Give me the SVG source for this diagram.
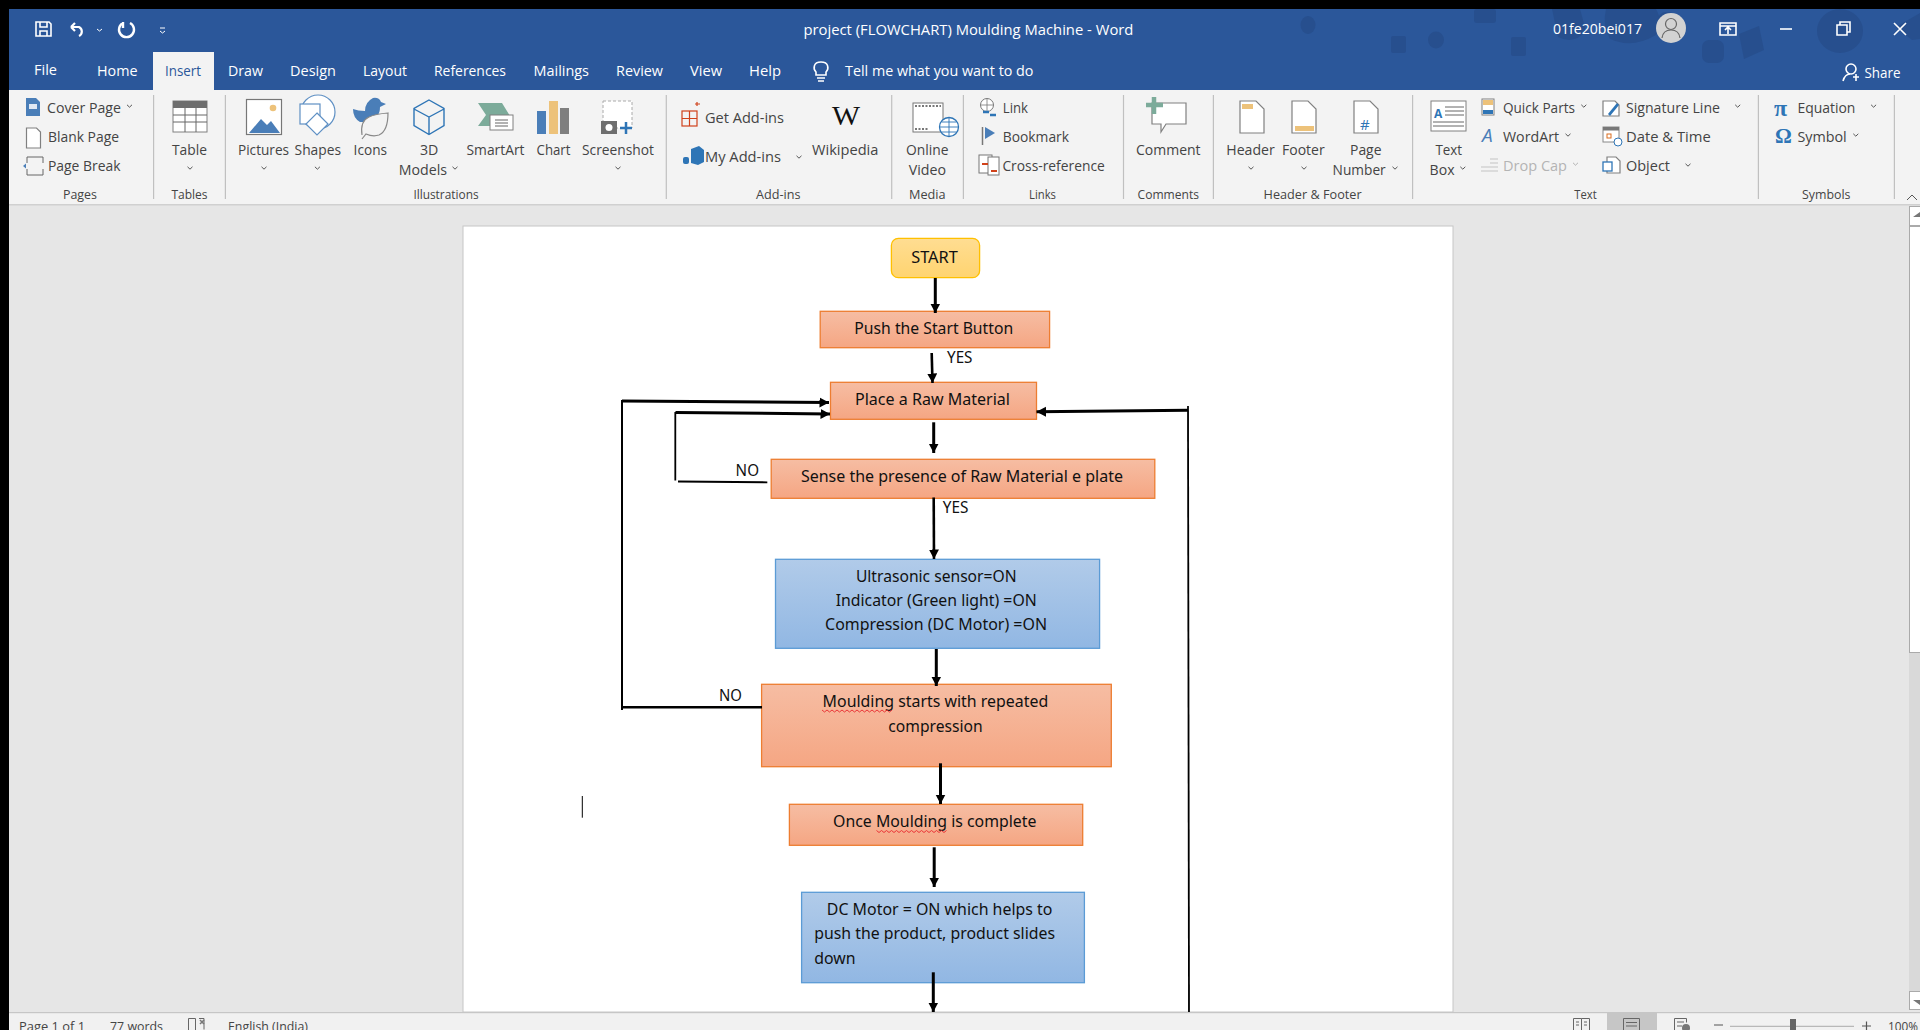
<svg xmlns="http://www.w3.org/2000/svg" width="1920" height="1030" viewBox="0 0 1920 1030">
<style>
text{font-family:"Open Sans","Noto Sans","Liberation Sans",sans-serif;font-size:14px;fill:#444;}
.t{fill:#fff;}
.g{font-size:12.5px;fill:#444;}
.f{font-family:"Noto Sans","Open Sans",sans-serif;font-size:16px;fill:#111;}
.d{fill:#b4b4b4;}
.or{fill:url(#orange);stroke:#ed7d31;stroke-width:1.3;}
.bl{fill:url(#blue);stroke:#5b9bd5;stroke-width:1.3;}
.c{fill:none;stroke:#666;stroke-width:1;}
.sep{stroke:#c0c0c0;stroke-width:1.2;}
.w{fill:none;stroke:#fff;stroke-width:1.6;}
.ln{fill:none;stroke:#000;}
.deco{fill:#274f8e;}
.ic{fill:#fff;stroke:#808080;stroke-width:1.2;}
.sq{fill:none;stroke:#e8282c;stroke-width:.9;}
</style>
<defs>
<linearGradient id="orange" x1="0" y1="0" x2="0" y2="1"><stop offset="0" stop-color="#f6bda3"/><stop offset="1" stop-color="#f5a683"/></linearGradient>
<linearGradient id="blue" x1="0" y1="0" x2="0" y2="1"><stop offset="0" stop-color="#b1cbe9"/><stop offset="1" stop-color="#91b7e3"/></linearGradient>
<linearGradient id="yellow" x1="0" y1="0" x2="0" y2="1"><stop offset="0" stop-color="#ffdd92"/><stop offset="1" stop-color="#ffd470"/></linearGradient>
<marker id="ah" markerUnits="userSpaceOnUse" markerWidth="11" markerHeight="11" refX="9.500" refY="5" orient="auto"><path d="M0 0L9.500 5L0 10z" fill="#000"/></marker>
<path id="chev" d="M-2.5 -1.2L0 1.2L2.5 -1.2" fill="none" stroke="#555" stroke-width="1"/>
</defs>

<g id="window">
<rect width="1920" height="1030" fill="#e6e6e6"/>
<rect x="0" y="9" width="1920" height="81" fill="#2b579a"/>
<rect x="9" y="90" width="1911" height="114" fill="#f3f3f3"/>
<rect x="9" y="204" width="1911" height="1.5" fill="#d0d0d0"/>
<rect x="9" y="1012" width="1911" height="18" fill="#f1f1f1"/>
<rect x="9" y="1012" width="1911" height="1.2" fill="#c6c6c6"/>
<rect x="0" y="0" width="9" height="1030" fill="#000"/>
<rect x="0" y="0" width="1920" height="9" fill="#000"/>
</g>

<g id="title-decoration" class="deco">
<ellipse cx="1308" cy="25" rx="7.5" ry="9"/><rect x="1391" y="36" width="15" height="17" rx="2"/><ellipse cx="1436" cy="40" rx="8" ry="8.5"/><rect x="1511" y="37" width="15" height="19" rx="2"/><rect x="1474" y="9" width="22" height="14" rx="3"/>
<path d="M1552 9h28l6 22q-12 14-28 6z"/><path d="M1606 9h50q8 14 0 26q-24 14-46 4q-8-14-4-30z"/><rect x="1658" y="12" width="18" height="20" rx="8"/>
<rect x="1702" y="40" width="22" height="23" rx="7"/><path d="M1739 34l20-8 5 24-20 9z"/><ellipse cx="1840" cy="31" rx="23" ry="22"/><path d="M1896 27l24-14v26l-8 1z"/>
</g>

<g id="quick-access" fill="none" stroke="#fff" stroke-width="1.6">
<path d="M36 22h13l2 2v12h-15zM40 22v5h7v-5M40 36v-5h7v5"/>
<path d="M71 27h8a5 5 0 0 1 0 9M71 27l4-4M71 27l4 4" stroke-width="2.200"/>
<path d="M97 29l2.500 2 2.500-2" stroke-width="1"/>
<path d="M123 23a7.500 7.500 0 1 0 7 0M123 22v6" stroke-width="2.400"/>
<path d="M160 28h5M160 31l2.500 2 2.500-2" stroke-width="1"/>
</g>
<text class="t" x="803.400" y="35" textLength="330" lengthAdjust="spacingAndGlyphs" style="font-size:14.500px">project (FLOWCHART) Moulding Machine  -  Word</text>
<text class="t" x="1553" y="34" textLength="89" lengthAdjust="spacingAndGlyphs">01fe20bei017</text>
<g id="window-controls">
<circle cx="1671" cy="28" r="15" fill="#d2d2d2"/><circle cx="1671" cy="24" r="5.500" fill="none" stroke="#666" stroke-width="1.200"/><path d="M1662 38q1-8 9-8t9 8" fill="none" stroke="#666" stroke-width="1.200"/>
<path class="w" d="M1720 23h16v12h-16zM1720 26h16M1728 34v-6M1725 30l3-3 3 3"/>
<path class="w" d="M1780 29h12"/>
<path class="w" d="M1837 25h10v10h-10zM1840 25v-3h10v10h-3"/>
<path class="w" d="M1894 23l12 12M1906 23l-12 12"/>
<circle cx="1851" cy="69" r="5" class="w" stroke-width="1.200"/><path class="w" stroke-width="1.200" d="M1843 81q2-7 7-7M1853 77h6M1856 74v7"/>
<path class="w" stroke-width="1.200" d="M816 75v-3c-3-3-3-10 5-10s8 7 5 10v3zM817 78h8M818 81h6"/>
</g>
<text class="t" x="1864.500" y="78" textLength="36" lengthAdjust="spacingAndGlyphs">Share</text>

<g id="tabs">
<rect x="153" y="52" width="61" height="38" fill="#f3f3f3"/>
<text class="t" x="34" y="75" textLength="23" lengthAdjust="spacingAndGlyphs">File</text>
<text class="t" x="97" y="76" textLength="40.500" lengthAdjust="spacingAndGlyphs">Home</text>
<text x="165" y="76" textLength="36" lengthAdjust="spacingAndGlyphs" style="fill:#2b579a">Insert</text>
<text class="t" x="228" y="76" textLength="35" lengthAdjust="spacingAndGlyphs">Draw</text>
<text class="t" x="290" y="76" textLength="46" lengthAdjust="spacingAndGlyphs">Design</text>
<text class="t" x="363" y="76" textLength="44" lengthAdjust="spacingAndGlyphs">Layout</text>
<text class="t" x="434" y="76" textLength="72" lengthAdjust="spacingAndGlyphs">References</text>
<text class="t" x="533.500" y="76" textLength="55.500" lengthAdjust="spacingAndGlyphs">Mailings</text>
<text class="t" x="616" y="76" textLength="47" lengthAdjust="spacingAndGlyphs">Review</text>
<text class="t" x="690" y="76" textLength="32" lengthAdjust="spacingAndGlyphs">View</text>
<text class="t" x="749" y="76" textLength="32" lengthAdjust="spacingAndGlyphs">Help</text>
<text class="t" x="845" y="76" textLength="188.500" lengthAdjust="spacingAndGlyphs">Tell me what you want to do</text>
</g>

<g id="ribbon-separators" class="sep">
<path d="M153.600 95V199M225.400 95V199M666.300 95V199M891.700 95V199M963.400 95V199M1123.500 95V199M1213.400 95V199M1412.600 95V199M1758.400 95V199M1894.400 95V199"/>
</g>

<g id="ribbon-labels">
<text x="47" y="112.700" textLength="74" lengthAdjust="spacingAndGlyphs">Cover Page</text>
<text x="48" y="141.700" textLength="71" lengthAdjust="spacingAndGlyphs">Blank Page</text>
<text x="48" y="170.700" textLength="72.500" lengthAdjust="spacingAndGlyphs">Page Break</text>
<text x="172" y="155" textLength="35" lengthAdjust="spacingAndGlyphs">Table</text>
<text x="238" y="155" textLength="51" lengthAdjust="spacingAndGlyphs">Pictures</text>
<text x="294.600" y="155" textLength="46.400" lengthAdjust="spacingAndGlyphs">Shapes</text>
<text x="353.600" y="155" textLength="33.400" lengthAdjust="spacingAndGlyphs">Icons</text>
<text x="420" y="155" textLength="18.400" lengthAdjust="spacingAndGlyphs">3D</text>
<text x="398.700" y="175" textLength="48.300" lengthAdjust="spacingAndGlyphs">Models</text>
<text x="466.500" y="155" textLength="58" lengthAdjust="spacingAndGlyphs">SmartArt</text>
<text x="536.600" y="155" textLength="33.900" lengthAdjust="spacingAndGlyphs">Chart</text>
<text x="582" y="155" textLength="72" lengthAdjust="spacingAndGlyphs">Screenshot</text>
<text x="705" y="122.700" textLength="79" lengthAdjust="spacingAndGlyphs">Get Add-ins</text>
<text x="705" y="161.700" textLength="76" lengthAdjust="spacingAndGlyphs">My Add-ins</text>
<text x="812" y="155" textLength="66.400" lengthAdjust="spacingAndGlyphs">Wikipedia</text>
<text x="906" y="155" textLength="42.500" lengthAdjust="spacingAndGlyphs">Online</text>
<text x="908.700" y="175" textLength="37.300" lengthAdjust="spacingAndGlyphs">Video</text>
<text x="1002.800" y="112.700" textLength="25.200" lengthAdjust="spacingAndGlyphs">Link</text>
<text x="1002.800" y="141.700" textLength="66.200" lengthAdjust="spacingAndGlyphs">Bookmark</text>
<text x="1002.400" y="170.700" textLength="102.400" lengthAdjust="spacingAndGlyphs">Cross-reference</text>
<text x="1136" y="155" textLength="64.600" lengthAdjust="spacingAndGlyphs">Comment</text>
<text x="1226.300" y="155" textLength="48.500" lengthAdjust="spacingAndGlyphs">Header</text>
<text x="1282" y="155" textLength="42.700" lengthAdjust="spacingAndGlyphs">Footer</text>
<text x="1350" y="155" textLength="31.500" lengthAdjust="spacingAndGlyphs">Page</text>
<text x="1332.600" y="175" textLength="53.100" lengthAdjust="spacingAndGlyphs">Number</text>
<text x="1435.400" y="155" textLength="26.600" lengthAdjust="spacingAndGlyphs">Text</text>
<text x="1429.600" y="175" textLength="24.900" lengthAdjust="spacingAndGlyphs">Box</text>
<text x="1503" y="112.700" textLength="72" lengthAdjust="spacingAndGlyphs">Quick Parts</text>
<text x="1503" y="141.700" textLength="56" lengthAdjust="spacingAndGlyphs">WordArt</text>
<text class="d" x="1503" y="170.700" textLength="64" lengthAdjust="spacingAndGlyphs">Drop Cap</text>
<text x="1626" y="112.700" textLength="94" lengthAdjust="spacingAndGlyphs">Signature Line</text>
<text x="1626" y="141.700" textLength="84.700" lengthAdjust="spacingAndGlyphs">Date &amp; Time</text>
<text x="1626" y="170.700" textLength="44" lengthAdjust="spacingAndGlyphs">Object</text>
<text x="1797.400" y="112.700" textLength="58" lengthAdjust="spacingAndGlyphs">Equation</text>
<text x="1797.400" y="141.700" textLength="49.300" lengthAdjust="spacingAndGlyphs">Symbol</text>
<text class="g" x="63" y="199" textLength="34" lengthAdjust="spacingAndGlyphs">Pages</text>
<text class="g" x="171.400" y="199" textLength="36.200" lengthAdjust="spacingAndGlyphs">Tables</text>
<text class="g" x="413.400" y="199" textLength="65.200" lengthAdjust="spacingAndGlyphs">Illustrations</text>
<text class="g" x="756" y="199" textLength="44.500" lengthAdjust="spacingAndGlyphs">Add-ins</text>
<text class="g" x="909" y="199" textLength="36.600" lengthAdjust="spacingAndGlyphs">Media</text>
<text class="g" x="1029" y="199" textLength="27" lengthAdjust="spacingAndGlyphs">Links</text>
<text class="g" x="1137.600" y="199" textLength="61.400" lengthAdjust="spacingAndGlyphs">Comments</text>
<text class="g" x="1263.600" y="199" textLength="98" lengthAdjust="spacingAndGlyphs">Header &amp; Footer</text>
<text class="g" x="1574.300" y="199" textLength="22.400" lengthAdjust="spacingAndGlyphs">Text</text>
<text class="g" x="1802" y="199" textLength="48.500" lengthAdjust="spacingAndGlyphs">Symbols</text>
<text x="832" y="125" style="font-family:'Liberation Serif',serif;font-size:27px;fill:#111" textLength="28" lengthAdjust="spacingAndGlyphs">W</text>
</g>

<g id="ribbon-chevrons">
<use href="#chev" x="129.500" y="106"/><use href="#chev" x="190" y="168"/><use href="#chev" x="264" y="168"/><use href="#chev" x="317.400" y="168"/><use href="#chev" x="455" y="168"/><use href="#chev" x="618" y="168"/><use href="#chev" x="799" y="157"/><use href="#chev" x="1251" y="168"/><use href="#chev" x="1304" y="168"/><use href="#chev" x="1395" y="168"/><use href="#chev" x="1462.800" y="168"/><use href="#chev" x="1583.800" y="106"/><use href="#chev" x="1568" y="135"/><use href="#chev" x="1575.500" y="164" opacity=".4"/><use href="#chev" x="1737.700" y="106"/><use href="#chev" x="1688" y="165"/><use href="#chev" x="1873.600" y="106"/><use href="#chev" x="1855.800" y="135"/>
<path d="M1907 200l5-5 5 5" fill="none" stroke="#555" stroke-width="1"/>
</g>

<g id="ribbon-icons">
<path d="M26 98h10l4 4v14h-14z" fill="#4a7eb8"/><rect x="29" y="104" width="8" height="5" fill="#dfe8f3"/>
<path class="ic" d="M26.500 128h10l4 4v16h-14z"/>
<path class="c" d="M27 157h16M27 175h16M27 163v-6M43 163v-6M27 169v6M43 169v6"/><path d="M23 166l3-2.500v5z" fill="#4a7eb8"/>
<rect x="173" y="101" width="34" height="31" fill="#fff" stroke="#808080"/><rect x="173" y="101" width="34" height="7" fill="#6e6e6e"/><path class="c" stroke-width=".8" d="M173 115h34M173 122h34M185 108v24M196 108v24"/>
<rect x="246.500" y="99.500" width="35" height="35" fill="#fff" stroke="#777" stroke-width="1.200"/><circle cx="273" cy="108" r="3.300" fill="#edc27a"/><path d="M249 133l12-14 6 6 4-4 9 12z" fill="#4a7eb8"/>
<circle cx="318" cy="112" r="17" fill="#fff" stroke="#5f90c4" stroke-width="1.200"/><rect x="300" y="104" width="20" height="20" fill="#fff" stroke="#5f90c4" stroke-width="1.200"/><path d="M317 113l11 11-11 11-11-11z" fill="#fff" stroke="#5f90c4" stroke-width="1.200"/>
<path d="M353 109q5 2 12 2q0-9 8-13q6-1 8 4l5 2-6 3q0 12-12 15h-8q-7-4-7-13z" fill="#4a7eb8"/><path d="M362 135q-2-14 7-18q6-3 19-4q0 18-9 22q-6 2-13-1l-4 5" fill="#f3f3f3" stroke="#888" stroke-width="1.200"/>
<path d="M429 100l15 8.500v17l-15 9-15-9v-17zM414 109l15 8 15-8M429 117v17" fill="none" stroke="#2e75b6" stroke-width="1.400"/>
<path d="M478 103h24l8 13-8 10h-24l8-11z" fill="#7cab9a"/><rect x="490" y="115" width="23" height="15" fill="#fff" stroke="#808080"/><path class="c" stroke-width=".8" d="M495 120h13M495 123h13M495 126h13"/>
<rect x="537" y="111" width="9" height="23" fill="#4a7eb8"/><rect x="549" y="101" width="9" height="33" fill="#edc27a"/><rect x="560" y="108" width="9" height="26" fill="#7f7f7f"/>
<rect x="603" y="101" width="29" height="27" fill="#fff" stroke="#aaa" stroke-dasharray="3 2"/><rect x="601" y="121" width="16" height="13" fill="#6e6e6e"/><circle cx="609" cy="127.500" r="3.500" fill="#fff"/><path d="M626 122v12M620 128h12" stroke="#2e75b6" stroke-width="2.500"/>
<g fill="none" stroke="#d0421b" stroke-width="1.200"><rect x="682" y="111" width="15" height="15"/><path d="M689.500 111v15M682 118.500h15M697 106v-4M695 104h5"/></g>
<path d="M691 149l8-3 5 4v12l-6 3-7-2z" fill="#2e75b6"/><rect x="683" y="157" width="6" height="7" rx="2" fill="#2e75b6"/>
<rect x="913" y="103" width="30" height="29" fill="#fff" stroke="#777"/><path d="M915 106h26M915 129h14" stroke="#777" stroke-width="2" stroke-dasharray="2 1.500"/><circle cx="949" cy="127" r="9.500" fill="#fff" stroke="#2e75b6" stroke-width="1.300"/><path d="M940 127h18M949 118v18M942 122h14M942 132h14" stroke="#2e75b6" stroke-width=".9" fill="none"/>
<circle cx="987" cy="105" r="6.500" fill="#fff" stroke="#777"/><path d="M981 105h12M987 99v12" stroke="#777" stroke-width=".8"/><path d="M983 112h6M990 115h6" stroke="#2e75b6" stroke-width="2.500"/>
<path d="M982.500 127v18" stroke="#777" stroke-width="1.500"/><path d="M985 127l10 6-10 6z" fill="#4a7eb8"/>
<rect x="979" y="155" width="13" height="18" fill="#fff" stroke="#777"/><rect x="988" y="157" width="11" height="18" fill="#fff" stroke="#777"/><path d="M982 164h6M991 171h6" stroke="#d0421b" stroke-width="1.800"/>
<path d="M1152 103h34v21h-20l-5 8v-8h-9z" fill="#fff" stroke="#808080" stroke-width="1.200"/><path d="M1154 97v17M1146 105h17" stroke="#7cab9a" stroke-width="4.500"/>
<path class="ic" d="M1240 101h16l8 8v24h-24z"/><rect x="1242" y="104" width="11" height="5" fill="#edc27a"/>
<path class="ic" d="M1292 101h16l8 8v24h-24z"/><rect x="1295" y="126" width="19" height="5" fill="#edc27a"/>
<path class="ic" d="M1354 101h16l8 8v24h-24z"/><text x="1360" y="130" style="fill:#2e75b6;font-size:15px">#</text>
<rect x="1431" y="101" width="35" height="30" fill="#fff" stroke="#808080"/><text x="1434" y="118" style="fill:#2e75b6;font-size:12px;font-weight:bold">A</text><path class="c" stroke-width=".8" d="M1445 107h19M1445 111h19M1445 115h19M1433 122h31M1433 126h31"/>
<rect x="1482" y="99" width="12" height="16" fill="#fff" stroke="#808080"/><rect x="1483" y="100" width="10" height="5" fill="#edc27a"/><rect x="1483" y="110" width="10" height="4" fill="#2e75b6"/>
<text x="1482" y="142" style="fill:#4a7eb8;font-size:19px;font-style:italic">A</text>
<path d="M1481 171h17M1481 167h17M1490 163h8M1490 159h8" stroke="#c4c4c4" stroke-width="1.200"/>
<path class="ic" d="M1603 101h12l4 4v11h-16z"/><path d="M1608 114l9-11 2 2-9 11z" fill="#2e75b6"/>
<rect x="1603" y="127" width="16" height="15" fill="#fff" stroke="#888"/><rect x="1603" y="127" width="16" height="3.500" fill="#777"/><rect x="1607" y="134" width="4" height="4" fill="none" stroke="#d96c1e"/><circle cx="1618" cy="142" r="4" fill="#fff" stroke="#2e75b6"/>
<path class="ic" d="M1607 157h9l4 4v12h-13z"/><rect x="1603" y="162" width="9" height="9" fill="#fff" stroke="#2e75b6" stroke-width="1.300"/>
<text x="1774" y="116" style="font-family:'Liberation Serif',serif;font-size:24px;font-weight:bold;fill:#2e75b6">π</text>
<text x="1775" y="143" style="font-family:'Liberation Serif',serif;font-size:21px;font-weight:bold;fill:#2e75b6">Ω</text>
</g>

<g id="scrollbar">
<rect x="1909" y="226" width="11" height="765" fill="#d9d9d9"/>
<rect x="1909.500" y="226.500" width="11" height="426" fill="#fff" stroke="#aaa"/>
<rect x="1909.500" y="206.500" width="11" height="19" fill="#fff" stroke="#aaa"/>
<rect x="1909.500" y="991.500" width="11" height="18" fill="#fff" stroke="#aaa"/>
<path d="M1913 217l7-5v5zM1913 1000h7v5z" fill="#777"/>
</g>

<rect id="page" x="463" y="226" width="990" height="786" fill="#fff" stroke="#c6c6c6"/>

<g id="node-start"><rect x="891.400" y="238.300" width="88.200" height="39.400" rx="7" fill="url(#yellow)" stroke="#ffc000" stroke-width="1.300"/><text class="f" x="911.200" y="263.300" textLength="46.600" lengthAdjust="spacingAndGlyphs">START</text></g>
<g id="node-push"><rect class="or" x="820.200" y="311.300" width="229.400" height="36.400"/><text class="f" x="854.300" y="334.300" textLength="158.900" lengthAdjust="spacingAndGlyphs">Push the Start Button</text></g>
<g id="node-place"><rect class="or" x="830.500" y="382.300" width="206" height="37"/><text class="f" x="855" y="405.300" textLength="155" lengthAdjust="spacingAndGlyphs">Place a Raw Material</text></g>
<g id="node-sense"><rect class="or" x="771.200" y="459.300" width="383.600" height="39"/><text class="f" x="800.900" y="482.300" textLength="322.100" lengthAdjust="spacingAndGlyphs">Sense the presence of Raw Material e plate</text></g>
<g id="node-ultrasonic"><rect class="bl" x="775.500" y="559.300" width="324.100" height="89"/>
<text class="f" x="855.900" y="582.300" textLength="160.700" lengthAdjust="spacingAndGlyphs">Ultrasonic sensor=ON</text>
<text class="f" x="835.700" y="606.300" textLength="201.100" lengthAdjust="spacingAndGlyphs">Indicator (Green light) =ON</text>
<text class="f" x="825.100" y="630.300" textLength="221.900" lengthAdjust="spacingAndGlyphs">Compression (DC Motor) =ON</text></g>
<g id="node-moulding"><rect class="or" x="761.600" y="684.300" width="349.700" height="82.400"/>
<text class="f" x="822.600" y="707.300" textLength="225.600" lengthAdjust="spacingAndGlyphs">Moulding starts with repeated</text>
<text class="f" x="888.300" y="732.300" textLength="94.300" lengthAdjust="spacingAndGlyphs">compression</text>
<path class="sq" d="M822 710l2.500 2 2.500-2 2.500 2 2.500-2 2.500 2 2.500-2 2.500 2 2.500-2 2.500 2 2.500-2 2.500 2 2.500-2 2.500 2 2.500-2 2.500 2 2.500-2 2.500 2 2.500-2 2.500 2 2.500-2 2.500 2 2.500-2 2.500 2 2.500-2 2.500 2 2.500-2 2.500 2 2.500-2"/></g>
<g id="node-complete"><rect class="or" x="789.400" y="804.300" width="293.300" height="41"/>
<text class="f" x="833.100" y="827.300" textLength="203.300" lengthAdjust="spacingAndGlyphs">Once Moulding is complete</text>
<path class="sq" d="M876.500 830.500l2.500 2 2.500-2 2.500 2 2.500-2 2.500 2 2.500-2 2.500 2 2.500-2 2.500 2 2.500-2 2.500 2 2.500-2 2.500 2 2.500-2 2.500 2 2.500-2 2.500 2 2.500-2 2.500 2 2.500-2 2.500 2 2.500-2 2.500 2 2.500-2 2.500 2 2.500-2 2.500 2 2.500-2"/></g>
<g id="node-dcmotor"><rect class="bl" x="801.600" y="892.300" width="282.800" height="90.400"/>
<text class="f" x="826.800" y="915.300" textLength="225.600" lengthAdjust="spacingAndGlyphs">DC Motor = ON which helps to</text>
<text class="f" x="814.200" y="939.300" textLength="240.800" lengthAdjust="spacingAndGlyphs">push the product, product slides</text>
<text class="f" x="814.200" y="964.300" textLength="41.300" lengthAdjust="spacingAndGlyphs">down</text></g>

<g id="connectors">
<path class="ln" stroke-width="3" d="M935.300 278V313" marker-end="url(#ah)"/>
<path class="ln" stroke-width="2.600" d="M931.700 353L932.500 383" marker-end="url(#ah)"/>
<path class="ln" stroke-width="3" d="M622 401L829 402.500" marker-end="url(#ah)"/>
<path class="ln" stroke-width="2" d="M622 400V710"/>
<path class="ln" stroke-width="2.400" d="M622 707.300H762"/>
<path class="ln" stroke-width="3" d="M675.500 412.500L830 414" marker-end="url(#ah)"/>
<path class="ln" stroke-width="1.800" d="M675.300 412V480.500"/>
<path class="ln" stroke-width="1.800" d="M678 481.500L767.300 482.300"/>
<path class="ln" stroke-width="3" d="M1188 410.300L1036.500 411.800" marker-end="url(#ah)"/>
<path class="ln" stroke-width="1.800" d="M1188 406L1189 1012"/>
<path class="ln" stroke-width="3" d="M933.700 422.300V453" marker-end="url(#ah)"/>
<path class="ln" stroke-width="2.600" d="M933.700 497.500L934 559" marker-end="url(#ah)"/>
<path class="ln" stroke-width="3" d="M936.300 649V686" marker-end="url(#ah)"/>
<path class="ln" stroke-width="3" d="M940.500 763.300V804" marker-end="url(#ah)"/>
<path class="ln" stroke-width="3" d="M934.200 847.300V887" marker-end="url(#ah)"/>
<path class="ln" stroke-width="3" d="M933.300 972.300V1012" marker-end="url(#ah)"/>
</g>

<g id="connector-labels">
<text class="f" x="947" y="362.700" textLength="25.500" lengthAdjust="spacingAndGlyphs">YES</text>
<text class="f" x="942.800" y="512.700" textLength="25.700" lengthAdjust="spacingAndGlyphs">YES</text>
<text class="f" x="735.600" y="476" textLength="23.400" lengthAdjust="spacingAndGlyphs">NO</text>
<text class="f" x="719" y="701.300" textLength="23" lengthAdjust="spacingAndGlyphs">NO</text>
</g>

<path id="caret" d="M582.300 796V817.700" stroke="#000" stroke-width="1"/>

<g id="status-bar">
<text x="19" y="1031" textLength="66" lengthAdjust="spacingAndGlyphs" style="font-size:13px">Page 1 of 1</text>
<text x="110" y="1031" textLength="53" lengthAdjust="spacingAndGlyphs" style="font-size:13px">77 words</text>
<path class="c" d="M188.500 1030v-11.500h7v11.500M199 1018.500h5v11"/><path d="M200 1020l4 4M204 1020l-4 4" stroke="#777" stroke-width="1.500"/>
<text x="228" y="1031" textLength="80" lengthAdjust="spacingAndGlyphs" style="font-size:13px">English (India)</text>
<rect x="1607" y="1012" width="50" height="18" fill="#c6c6c6"/>
<path class="c" d="M1573.500 1030v-11.500h8v11.500M1581.500 1018.500h8v11.500M1576 1022h3M1576 1025h3M1584 1022h3M1584 1025h3"/>
<path class="c" d="M1623.500 1030v-11.500h16v11.500M1626 1022.500h11M1626 1026h11"/>
<path class="c" d="M1674.500 1030v-11.500h12v4M1677 1022h7M1677 1026h5"/><circle cx="1686" cy="1028" r="4" fill="#777"/>
<path d="M1714 1025h9M1862 1026h9M1866.500 1021.500v9" stroke="#555" stroke-width="1.200"/>
<path d="M1730 1026.300H1854" stroke="#aaa" stroke-width="1"/><rect x="1790" y="1019" width="6" height="11" fill="#666"/>
<text x="1888" y="1031" textLength="30" lengthAdjust="spacingAndGlyphs" style="font-size:13px">100%</text>
</g>
</svg>
